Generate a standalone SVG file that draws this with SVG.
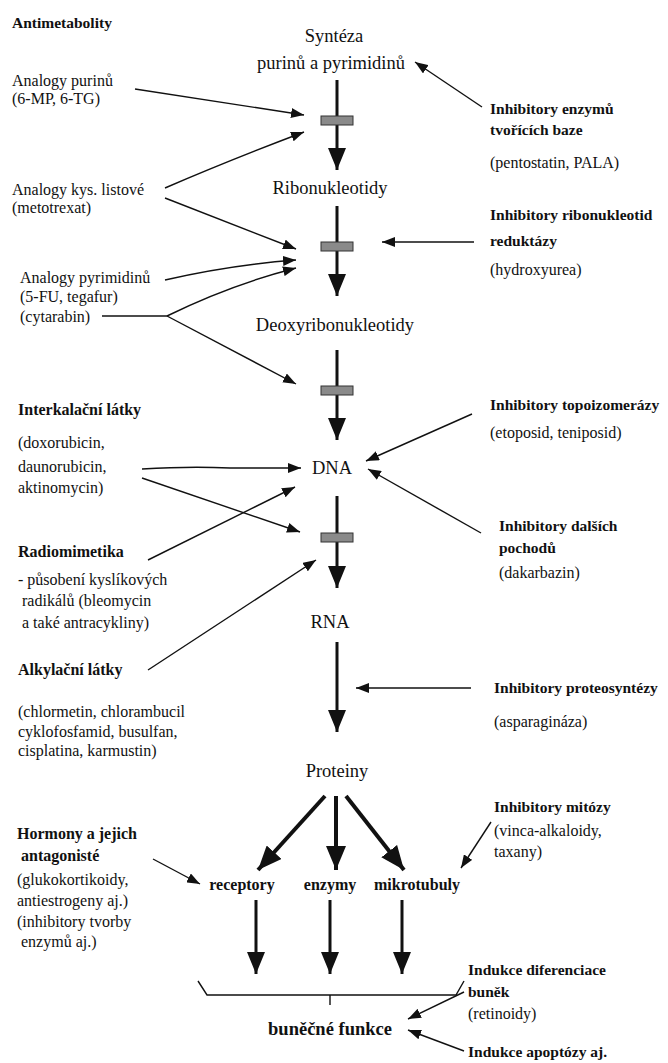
<svg xmlns="http://www.w3.org/2000/svg" width="668" height="1063" viewBox="0 0 668 1063">
<defs>
<style>
text{font-family:"Liberation Serif","Times New Roman",serif;fill:#111}
.c{font-size:18.5px;text-anchor:middle}
.l{font-size:16px}
.b{font-size:15.5px;font-weight:bold}
.cb{font-size:16px;font-weight:bold;text-anchor:middle}
.thin{stroke:#111;stroke-width:1.4;fill:none;marker-end:url(#ah)}
.main{stroke:#111;stroke-width:3;fill:none;marker-end:url(#big)}
.br{stroke:#111;stroke-width:4;fill:none;marker-end:url(#big2)}
.bar{fill:#8a8a8a;stroke:#333;stroke-width:1}
</style>
<marker id="ah" markerUnits="userSpaceOnUse" markerWidth="13" markerHeight="10" refX="13" refY="5" orient="auto"><path d="M0,0 L13,5 L0,10 z" fill="#111"/></marker>
<marker id="big" markerUnits="userSpaceOnUse" markerWidth="22" markerHeight="18" refX="22" refY="9" orient="auto"><path d="M0,0 L22,9 L0,18 z" fill="#111"/></marker>
<marker id="big2" markerUnits="userSpaceOnUse" markerWidth="24" markerHeight="20" refX="24" refY="10" orient="auto"><path d="M0,0 L24,10 L0,20 z" fill="#111"/></marker>
</defs>

<g id="connectors">
<line class="main" x1="337" y1="80" x2="337" y2="170"/>
<line class="main" x1="337" y1="206" x2="337" y2="296"/>
<line class="main" x1="337" y1="350" x2="337" y2="440"/>
<line class="main" x1="337" y1="496" x2="337" y2="588"/>
<line class="main" x1="337" y1="642" x2="337" y2="732"/>
<rect class="bar" x="321" y="116" width="32" height="9"/>
<rect class="bar" x="321" y="242" width="32" height="9"/>
<rect class="bar" x="321" y="386" width="32" height="9"/>
<rect class="bar" x="321" y="533" width="32" height="9"/>
<line class="br" x1="325" y1="796" x2="258" y2="870"/>
<line class="br" x1="336" y1="796" x2="336" y2="870"/>
<line class="br" x1="346" y1="796" x2="404" y2="870"/>
<line class="main" x1="256" y1="900" x2="256" y2="974"/>
<line class="main" x1="330" y1="900" x2="330" y2="974"/>
<line class="main" x1="402" y1="900" x2="402" y2="974"/>
<path d="M198,981 L207,995 L456,995 L464,981 M330,995 L330,1005" stroke="#111" stroke-width="1.4" fill="none"/>
<line class="thin" x1="135" y1="89" x2="304" y2="115"/>
<path class="thin" d="M165,188 Q230,160 304,132"/>
<line class="thin" x1="165" y1="198" x2="296" y2="249"/>
<path class="thin" d="M165,280 Q230,265 296,260"/>
<path d="M102,316 L167,316" stroke="#111" stroke-width="1.4" fill="none"/>
<path class="thin" d="M167,316 Q230,285 296,268"/>
<line class="thin" x1="167" y1="316" x2="296" y2="384"/>
<path class="thin" d="M142,469 Q190,466 230,468 L301,468"/>
<line class="thin" x1="142" y1="478" x2="300" y2="532"/>
<line class="thin" x1="148" y1="560" x2="295" y2="487"/>
<line class="thin" x1="148" y1="670" x2="316" y2="560"/>
<line class="thin" x1="153" y1="859" x2="200" y2="884"/>
<line class="thin" x1="482" y1="107" x2="415" y2="62"/>
<line class="thin" x1="474" y1="242" x2="382" y2="242"/>
<line class="thin" x1="472" y1="414" x2="366" y2="461"/>
<line class="thin" x1="481" y1="533" x2="368" y2="469"/>
<line class="thin" x1="471" y1="688" x2="356" y2="688"/>
<line class="thin" x1="491" y1="822" x2="461" y2="868"/>
<line class="thin" x1="464" y1="992" x2="408" y2="1019"/>
<line class="thin" x1="464" y1="1051" x2="408" y2="1030"/>
</g>

<g id="n-antimetabolity"><text class="b" x="12" y="28">Antimetabolity</text></g>
<g id="n-syntheza"><text class="c" x="334" y="42">Syntéza</text><text class="c" x="331" y="69">purinů a pyrimidinů</text></g>
<g id="n-ribo"><text class="c" x="330" y="194">Ribonukleotidy</text></g>
<g id="n-deoxy"><text class="c" x="335" y="331">Deoxyribonukleotidy</text></g>
<g id="n-dna"><text class="c" x="332" y="474">DNA</text></g>
<g id="n-rna"><text class="c" x="330" y="628">RNA</text></g>
<g id="n-proteiny"><text class="c" x="337" y="777">Proteiny</text></g>
<g id="n-receptory"><text class="cb" x="242" y="890">receptory</text></g>
<g id="n-enzymy"><text class="cb" x="330" y="890">enzymy</text></g>
<g id="n-mikrotubuly"><text class="cb" x="417" y="890">mikrotubuly</text></g>
<g id="n-funkce"><text class="c" x="330" y="1035" style="font-weight:bold">buněčné funkce</text></g>

<g id="n-purin"><text class="l" x="12" y="86">Analogy purinů</text><text class="l" x="12" y="104">(6-MP, 6-TG)</text></g>
<g id="n-listova"><text class="l" x="12" y="195">Analogy kys. listové</text><text class="l" x="12" y="213">(metotrexat)</text></g>
<g id="n-pyrimidin"><text class="l" x="20" y="283">Analogy pyrimidinů</text><text class="l" x="20" y="302">(5-FU, tegafur)</text><text class="l" x="20" y="322">(cytarabin)</text></g>
<g id="n-interkal"><text class="b" x="18" y="415" style="font-size:16px">Interkalační látky</text><text class="l" x="18" y="448">(doxorubicin,</text><text class="l" x="18" y="472">daunorubicin,</text><text class="l" x="18" y="493">aktinomycin)</text></g>
<g id="n-radio"><text class="b" x="18" y="557" style="font-size:16px">Radiomimetika</text><text class="l" x="18" y="585">- působení kyslíkových</text><text class="l" x="22" y="606">radikálů (bleomycin</text><text class="l" x="22" y="628">a také antracykliny)</text></g>
<g id="n-alkyl"><text class="b" x="18" y="675" style="font-size:16px">Alkylační látky</text><text class="l" x="18" y="717">(chlormetin, chlorambucil</text><text class="l" x="18" y="737">cyklofosfamid, busulfan,</text><text class="l" x="18" y="756">cisplatina, karmustin)</text></g>
<g id="n-hormony"><text class="b" x="17" y="839" style="font-size:16px">Hormony a jejich</text><text class="b" x="21" y="861" style="font-size:16px">antagonisté</text><text class="l" x="17" y="885">(glukokortikoidy,</text><text class="l" x="17" y="906">antiestrogeny aj.)</text><text class="l" x="17" y="927">(inhibitory tvorby</text><text class="l" x="21" y="947">enzymů aj.)</text></g>

<g id="n-inh-enzym"><text class="b" x="490" y="114">Inhibitory enzymů</text><text class="b" x="490" y="135">tvořících baze</text><text class="l" x="490" y="168">(pentostatin, PALA)</text></g>
<g id="n-inh-ribo"><text class="b" x="490" y="220">Inhibitory ribonukleotid</text><text class="b" x="490" y="246">reduktázy</text><text class="l" x="490" y="275">(hydroxyurea)</text></g>
<g id="n-inh-topo"><text class="b" x="490" y="410">Inhibitory topoizomerázy</text><text class="l" x="490" y="438">(etoposid, teniposid)</text></g>
<g id="n-inh-dalsi"><text class="b" x="499" y="531">Inhibitory dalších</text><text class="b" x="499" y="553">pochodů</text><text class="l" x="499" y="578">(dakarbazin)</text></g>
<g id="n-inh-proteo"><text class="b" x="494" y="693">Inhibitory proteosyntézy</text><text class="l" x="494" y="727">(asparagináza)</text></g>
<g id="n-inh-mitoza"><text class="b" x="494" y="812">Inhibitory mitózy</text><text class="l" x="494" y="836">(vinca-alkaloidy,</text><text class="l" x="494" y="857">taxany)</text></g>
<g id="n-diferenciace"><text class="b" x="468" y="975">Indukce diferenciace</text><text class="b" x="468" y="997">buněk</text><text class="l" x="468" y="1019">(retinoidy)</text></g>
<g id="n-apoptoza"><text class="b" x="468" y="1057">Indukce apoptózy aj.</text></g>
</svg>
